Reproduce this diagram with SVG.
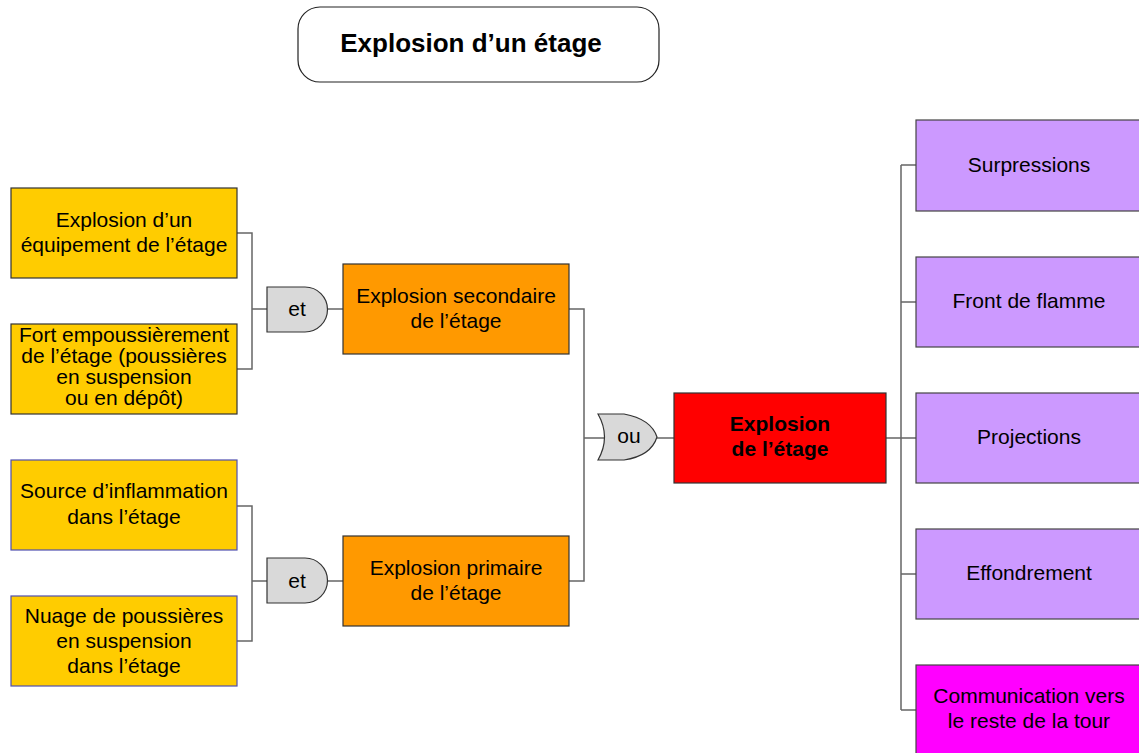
<svg xmlns="http://www.w3.org/2000/svg" width="1139" height="753" viewBox="0 0 1139 753">
<style>
text{font-family:"Liberation Sans",Arial,sans-serif;font-size:21px;fill:#000;text-anchor:middle}
.b{font-weight:bold}
.y{fill:#FFCC00;stroke:#333;stroke-width:1.2}
.yb{fill:#FFCC00;stroke:#4f4fb0;stroke-width:1.2}
.o{fill:#FF9900;stroke:#333;stroke-width:1.2}
.r{fill:#FF0000;stroke:#333;stroke-width:1.2}
.p{fill:#CC99FF;stroke:#444;stroke-width:1.2}
.m{fill:#FF00FF;stroke:#444;stroke-width:1.2}
.g{fill:#D9D9D9;stroke:#333;stroke-width:1.2}
.c{fill:none;stroke:#666;stroke-width:1.5}
</style>
<rect width="1139" height="753" fill="#fff"/>
<g id="title">
<rect x="298" y="7" width="361" height="75" rx="22" fill="#fff" stroke="#222" stroke-width="1.2"/>
<text class="b" x="471" y="52" style="font-size:26px">Explosion d’un étage</text>
</g>
<g id="connectors">
<path class="c" d="M237,233 H252 V369 H237 M252,309 H267 M327,309 H343"/>
<path class="c" d="M237,506 H252 V641 H237 M252,581 H267 M327,581 H343"/>
<path class="c" d="M569,309 H584 V581 H569 M584,438 H604 M657,438 H674"/>
<path class="c" d="M886,438 H916 M901,165 V710 M901,165 H916 M901,302 H916 M901,574 H916 M901,710 H916"/>
</g>
<g id="n1"><rect class="y" x="11" y="188" width="226" height="90"/><text x="124" y="227">Explosion d’un</text><text x="124" y="252">équipement de l’étage</text></g>
<g id="n2"><rect class="y" x="11" y="324" width="226" height="90"/><text x="124" y="342">Fort empoussièrement</text><text x="124" y="363">de l’étage (poussières</text><text x="124" y="384">en suspension</text><text x="124" y="405">ou en dépôt)</text></g>
<g id="n3"><rect class="yb" x="11" y="460" width="226" height="90"/><text x="124" y="498">Source d’inflammation</text><text x="124" y="524">dans l’étage</text></g>
<g id="n4"><rect class="yb" x="11" y="596" width="226" height="90"/><text x="124" y="623">Nuage de poussières</text><text x="124" y="648">en suspension</text><text x="124" y="673">dans l’étage</text></g>
<g id="and1"><path class="g" d="M267,287 H305 A22.5,22.5 0 0 1 305,332 H267 Z"/><text x="297" y="316">et</text></g>
<g id="and2"><path class="g" d="M267,558 H305 A22.5,22.5 0 0 1 305,603 H267 Z"/><text x="297" y="588">et</text></g>
<g id="n5"><rect class="o" x="343" y="264" width="226" height="90"/><text x="456" y="303">Explosion secondaire</text><text x="456" y="328">de l’étage</text></g>
<g id="n6"><rect class="o" x="343" y="536" width="226" height="90"/><text x="456" y="575">Explosion primaire</text><text x="456" y="600">de l’étage</text></g>
<g id="or"><path class="g" d="M598,414 H624 Q651,419 657,437 Q651,456 624,460 H598 Q611,437 598,414 Z"/><text x="629" y="443">ou</text></g>
<g id="top"><rect class="r" x="674" y="393" width="212" height="90"/><text class="b" x="780" y="431">Explosion</text><text class="b" x="780" y="456">de l’étage</text></g>
<g id="c1"><rect class="p" x="916" y="120" width="226" height="91"/><text x="1029" y="172">Surpressions</text></g>
<g id="c2"><rect class="p" x="916" y="257" width="226" height="90"/><text x="1029" y="308">Front de flamme</text></g>
<g id="c3"><rect class="p" x="916" y="393" width="226" height="90"/><text x="1029" y="444">Projections</text></g>
<g id="c4"><rect class="p" x="916" y="529" width="226" height="90"/><text x="1029" y="580">Effondrement</text></g>
<g id="c5"><rect class="m" x="916" y="665" width="226" height="92"/><text x="1029" y="703">Communication vers</text><text x="1029" y="728">le reste de la tour</text></g>
</svg>
